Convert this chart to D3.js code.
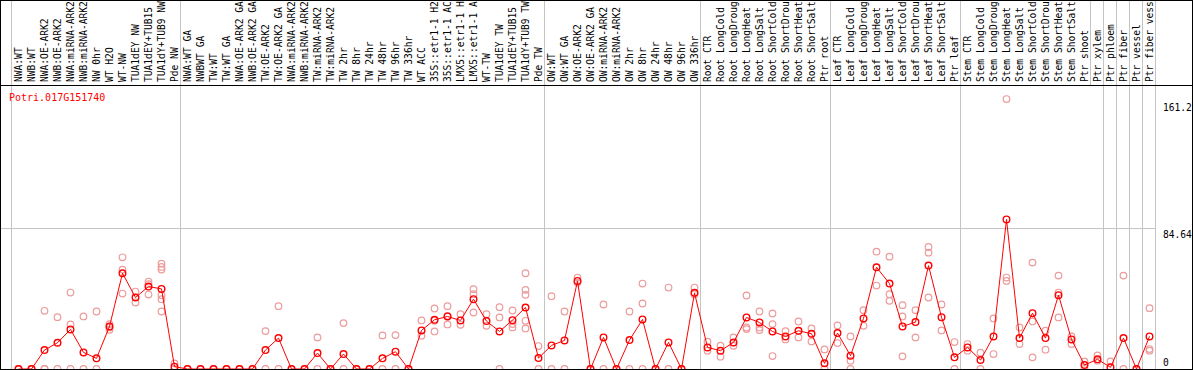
<!DOCTYPE html>
<html lang="en">
    <head>
        <meta charset="utf-8">
        <title>Potri.017G151740</title>
        <script type="text/javascript" src="https://d3js.org/d3.v7.min.js"></script>
        <style type="text/css">
            body { margin: 0; background: white; }
            text { font-family: "DejaVu Sans Mono", monospace; }
        </style>
    </head>
    <body>
        <script type="text/javascript">
            // sample names, one column each
            var samples = [
                "NWA:WT","NWB:WT","NWA:OE-ARK2","NWB:OE-ARK2","NWA:miRNA-ARK2","NWB:miRNA-ARK2","NW 0hr","WT H2O","WT-NW",
                "TUA1dEY NW","TUA1dEY+TUB15 NW","TUA1dY+TUB9 NW","Pde NW",
                "NWA:WT GA","NWBWT GA","TW:WT","TW:WT GA","NWA:OE-ARK2 GA","NWB:OE-ARK2 GA","TW:OE-ARK2","TW:OE-ARK2 GA",
                "NWA:miRNA-ARK2","NWB:miRNA-ARK2","TW:miRNA-ARK2","TW:miRNA-ARK2","TW 2hr","TW 8hr","TW 24hr","TW 48hr",
                "TW 96hr","TW 336hr","WT ACC","35S::etr1-1 H2O","35S::etr1-1 ACC","LMX5::etr1-1 H2O","LMX5::etr1-1 ACC",
                "WT-TW","TUA1dEY TW","TUA1dEY+TUB15 TW","TUA1dY+TUB9 TW","Pde TW",
                "OW:WT","OW:WT GA","OW:OE-ARK2","OW:OE-ARK2 GA","OW:miRNA-ARK2","OW:miRNA-ARK2","OW 2hr","OW 8hr",
                "OW 24hr","OW 48hr","OW 96hr","OW 336hr",
                "Root CTR","Root LongCold","Root LongDrought","Root LongHeat","Root LongSalt","Root ShortCold",
                "Root ShortDrought","Root ShortHeat","Root ShortSalt","Ptr root",
                "Leaf CTR","Leaf LongCold","Leaf LongDrought","Leaf LongHeat","Leaf LongSalt","Leaf ShortCold",
                "Leaf ShortDrought","Leaf ShortHeat","Leaf ShortSalt","Ptr leaf",
                "Stem CTR","Stem LongCold","Stem LongDrought","Stem LongHeat","Stem LongSalt","Stem ShortCold",
                "Stem ShortDrought","Stem ShortHeat","Stem ShortSalt","Ptr shoot",
                "Ptr xylem","Ptr phloem","Ptr fiber","Ptr vessel","Ptr fiber vessel"
            ];

            // mean expression per sample (red line)
            var means = [
                0, 0, 11.4, 15.8, 23.8, 10, 6.4, 25.6, 57.6, 43, 49.6, 48.2, 1.4,
                0, 0, 0, 0, 0, 0, 11.4, 18.6, 0, 0, 9.6, 0, 9, 0, 0, 6.4, 10.4, 0,
                23.2, 29.6, 31.6, 29.2, 42, 28.8, 22.6, 29.4, 37, 6.6,
                14.2, 17.2, 53, 0, 19, 0, 17.4, 29.8, 0, 16, 0, 45.8,
                13, 11, 16, 31, 28, 22.6, 19.6, 23, 21.2, 3.4,
                21.6, 8, 30.4, 61.2, 51.4, 25.6, 28.2, 62.2, 31.2, 7,
                13, 5.4, 19.6, 90, 18.6, 33.6, 18.6, 44.4, 17.8, 2.4,
                5.8, 1, 18.6, 0, 19.6
            ];

            // individual replicates per sample (pale circles)
            var replicates = [
                [0, 0], [0, 0], [35, 0, 0], [31.2, 0], [46, 26.8, 0], [31.6, 0], [34.6, 0], [27, 23.6, 25],
                [67.2, 59.8, 45.4], [46.6, 40], [52.6, 51, 44.8], [63.4, 61.4, 59.8, 44.4, 42, 34.6], [3.4, 0],
                [0], [0], [0], [0], [0], [0], [22.8, 0], [37.8, 0], [0], [0], [19, 0], [0], [27.6, 0], [0], [0],
                [20.2, 0], [20.4, 0], [0],
                [29.2, 20], [36.4, 22.6, 29], [37.8, 26.8, 32], [33, 26.6], [48, 34, 45], [33, 26],
                [37.2, 31, 0], [35.2, 25, 27], [57.6, 47.6, 44.6, 29, 24.4], [13.8, 0],
                [43.8, 0], [34.6, 0], [55, 52], [0], [38.8, 0], [0], [34.6, 0], [51.4, 39.4, 0], [0],
                [49, 0], [0], [49, 45],
                [16.4, 11], [14, 7.4], [19, 14], [44.2, 25, 24], [34.6, 25, 23.4], [33.4, 27, 7.8],
                [22.8, 17.8], [28.6, 19], [24.4, 16.6], [11.8, 0],
                [26.2, 15.6], [19.6, 5, 0], [35.4, 26], [70.6, 50.2], [67.6, 45, 41], [38.4, 31.6, 7.6],
                [35.4, 19], [73.4, 70, 43], [38.8, 23.2], [16.2, 0],
                [15, 11], [9.8, 0], [30.4, 9], [162.4, 55, 53], [25, 15], [64, 28.6, 7], [23, 11.6],
                [56.2, 46, 31], [19.6, 15], [4.6, 0],
                [8.2, 5], [4.6], [56.2, 0], [0], [36.6, 12, 11]
            ];

            var yTicks = [0, 84.64, 161.2];
            var geneName = "Potri.017G151740";

            // group boundaries (column index where a new block starts)
            var plotBreaks = [0, 13, 41, 53, 63, 73, 84, 85, 86, 87, 88];
            var labelBreaks = [0, 13, 41, 53, 63, 73, 83, 84, 85, 86, 87, 88];

            var w = 1194, h = 370;
            var left = 11, right = 1155;
            var labelBottom = 85, plotBottom = 369;
            var red = "#ff0000", pale = "#ec9c9c", grid = "#c4c4c4";

            var svg = d3.select("body").append("svg")
                .attr("width", w)
                .attr("height", h);

            var x = d3.scaleBand()
                .domain(d3.range(samples.length))
                .range([left, right]);
            var colEdge = function(i) { return left + i * x.step(); };
            var px = function(i) { return x(i) + x.bandwidth() / 2 + 1; };

            var y = d3.scaleLinear()
                .domain([0, 84.64])
                .range([plotBottom, 228.3]);

            // vertical separators
            svg.selectAll("line.lsep").data(labelBreaks).enter().append("line")
                .attr("x1", function(d) { return colEdge(d) + 0.5; })
                .attr("x2", function(d) { return colEdge(d) + 0.5; })
                .attr("y1", 0).attr("y2", labelBottom)
                .attr("stroke", grid).attr("shape-rendering", "crispEdges");
            svg.selectAll("line.psep").data(plotBreaks).enter().append("line")
                .attr("x1", function(d) { return colEdge(d) + 0.5; })
                .attr("x2", function(d) { return colEdge(d) + 0.5; })
                .attr("y1", labelBottom).attr("y2", plotBottom)
                .attr("stroke", grid).attr("shape-rendering", "crispEdges");

            // horizontal gridline at the middle tick
            svg.append("line")
                .attr("x1", 1).attr("x2", right)
                .attr("y1", Math.round(y(yTicks[1])) + 0.5).attr("y2", Math.round(y(yTicks[1])) + 0.5)
                .attr("stroke", grid).attr("shape-rendering", "crispEdges");

            // sample labels, rotated
            var clip = svg.append("clipPath").attr("id", "lab").append("rect")
                .attr("x", 0).attr("y", 1).attr("width", w).attr("height", labelBottom - 1);
            svg.append("g").attr("clip-path", "url(#lab)")
                .selectAll("text").data(samples).enter().append("text")
                .attr("transform", function(d, i) {
                    return "translate(" + (x(i) + 10.5) + "," + (labelBottom - 3) + ") rotate(-90)";
                })
                .attr("font-size", "9.6px")
                .attr("fill", "black")
                .text(function(d) { return d; });

            // y tick labels
            svg.selectAll("text.ytick").data(yTicks).enter().append("text")
                .attr("x", right + 8)
                .attr("y", function(d) { return Math.min(y(d) + 9.5, plotBottom - 3); })
                .attr("font-size", "9.6px")
                .attr("fill", "black")
                .text(function(d) { return d; });

            // gene name
            svg.append("text")
                .attr("x", 9).attr("y", 101)
                .attr("font-size", "10px")
                .attr("fill", red)
                .text(geneName);

            // replicates
            var repPts = [];
            replicates.forEach(function(r, i) {
                r.forEach(function(v) { repPts.push({ i: i, v: v }); });
            });
            svg.selectAll("circle.rep").data(repPts).enter().append("circle")
                .attr("cx", function(d) { return px(d.i); })
                .attr("cy", function(d) { return y(d.v); })
                .attr("r", 3.3)
                .attr("fill", "none")
                .attr("stroke", pale)
                .attr("stroke-width", 1.2);

            // mean line
            var line = d3.line()
                .x(function(d, i) { return px(i); })
                .y(function(d) { return y(d); });
            svg.append("path")
                .datum(means)
                .attr("d", line)
                .attr("fill", "none")
                .attr("stroke", red)
                .attr("stroke-width", 1);

            svg.selectAll("circle.mean").data(means).enter().append("circle")
                .attr("cx", function(d, i) { return px(i); })
                .attr("cy", function(d) { return y(d); })
                .attr("r", 3.3)
                .attr("fill", "none")
                .attr("stroke", red)
                .attr("stroke-width", 1.4);

            // frame
            svg.append("rect")
                .attr("x", 0.5).attr("y", 0.5)
                .attr("width", 1192).attr("height", plotBottom)
                .attr("fill", "none").attr("stroke", "black")
                .attr("shape-rendering", "crispEdges");
            svg.append("line")
                .attr("x1", 0).attr("x2", 1193)
                .attr("y1", labelBottom + 0.5).attr("y2", labelBottom + 0.5)
                .attr("stroke", "black").attr("stroke-width", 1.5)
                .attr("shape-rendering", "crispEdges");
        </script>
    </body>
</html>
